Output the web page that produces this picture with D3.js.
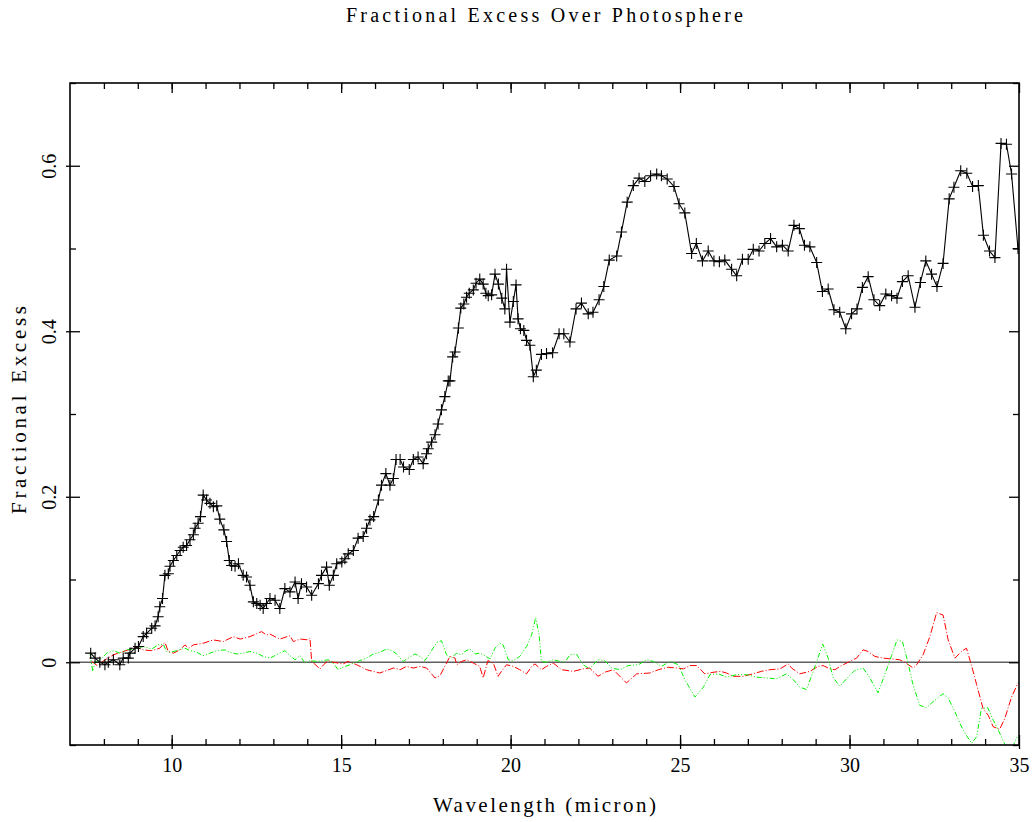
<!DOCTYPE html>
<html><head><meta charset="utf-8">
<script src="https://cdn.jsdelivr.net/npm/d3@7"></script>
<style>body{margin:0;background:#fff}svg{display:block}text{font-family:"Liberation Serif",serif;fill:#000}</style>
</head><body>
<script>
// ---- data ----
const titleText = "Fractional Excess Over Photosphere";
const xLabel = "Wavelength (micron)";
const yLabel = "Fractional Excess";
const xMajorTicks = [10, 15, 20, 25, 30, 35];
const yMajorTicks = [0, 0.2, 0.4, 0.6];
const yTickLabels = ["0", "0.2", "0.4", "0.6"];

const obsWave = [7.61,7.74,7.88,8.03,8.13,8.28,8.47,8.57,8.72,8.77,8.92,9.02,9.16,9.26,9.41,9.51,9.60,9.65,9.73,9.80,9.90,9.95,10.05,10.15,10.25,10.34,10.44,10.54,10.64,10.69,10.78,10.85,10.93,11.03,11.13,11.23,11.33,11.42,11.54,11.62,11.70,11.77,11.87,11.97,12.11,12.21,12.31,12.41,12.51,12.61,12.70,12.80,12.90,13.05,13.19,13.34,13.49,13.64,13.73,13.83,13.98,14.13,14.33,14.42,14.57,14.65,14.77,14.87,15.02,15.11,15.21,15.36,15.50,15.65,15.75,15.85,15.96,16.10,16.19,16.32,16.44,16.54,16.62,16.74,16.84,17.01,17.13,17.27,17.42,17.52,17.57,17.67,17.77,17.86,17.96,18.06,18.16,18.21,18.29,18.36,18.46,18.53,18.62,18.70,18.78,18.90,18.98,19.09,19.19,19.27,19.34,19.44,19.54,19.64,19.74,19.83,19.88,19.98,20.08,20.16,20.22,20.29,20.39,20.47,20.57,20.67,20.76,20.91,21.06,21.24,21.43,21.57,21.75,21.93,22.09,22.29,22.43,22.61,22.75,22.91,23.13,23.27,23.44,23.62,23.79,23.96,24.13,24.31,24.45,24.62,24.82,24.97,25.14,25.34,25.48,25.66,25.83,26.00,26.16,26.32,26.52,26.67,26.84,27.01,27.16,27.33,27.50,27.67,27.85,28.02,28.19,28.36,28.52,28.67,28.83,29.03,29.20,29.37,29.54,29.71,29.89,30.06,30.22,30.38,30.55,30.72,30.89,31.07,31.24,31.40,31.56,31.73,31.93,32.09,32.25,32.42,32.58,32.76,32.94,33.08,33.28,33.46,33.63,33.80,33.95,34.13,34.29,34.47,34.63,34.78,34.97];
const obsExcess = [0.011,0.005,0.000,-0.003,0.000,0.003,-0.003,0.005,0.005,0.011,0.017,0.019,0.031,0.035,0.041,0.044,0.055,0.067,0.077,0.105,0.107,0.116,0.123,0.129,0.135,0.139,0.141,0.148,0.154,0.162,0.168,0.176,0.202,0.196,0.192,0.188,0.189,0.173,0.160,0.146,0.123,0.117,0.116,0.119,0.105,0.103,0.093,0.073,0.071,0.069,0.065,0.071,0.077,0.075,0.065,0.089,0.085,0.097,0.077,0.095,0.091,0.081,0.095,0.105,0.115,0.093,0.105,0.119,0.121,0.125,0.131,0.135,0.150,0.152,0.162,0.172,0.176,0.196,0.214,0.228,0.214,0.222,0.245,0.245,0.236,0.233,0.245,0.248,0.240,0.252,0.258,0.266,0.275,0.288,0.305,0.321,0.340,0.340,0.369,0.375,0.404,0.428,0.433,0.441,0.446,0.450,0.458,0.463,0.457,0.446,0.443,0.444,0.469,0.457,0.440,0.427,0.475,0.411,0.436,0.456,0.415,0.403,0.401,0.389,0.383,0.345,0.353,0.372,0.373,0.374,0.397,0.397,0.387,0.427,0.434,0.421,0.423,0.438,0.454,0.486,0.491,0.520,0.556,0.576,0.585,0.581,0.588,0.590,0.588,0.584,0.575,0.554,0.543,0.494,0.506,0.485,0.497,0.485,0.484,0.486,0.475,0.467,0.487,0.487,0.499,0.497,0.506,0.512,0.502,0.504,0.497,0.528,0.524,0.504,0.502,0.483,0.448,0.451,0.426,0.423,0.403,0.421,0.427,0.453,0.466,0.438,0.431,0.445,0.443,0.440,0.460,0.467,0.429,0.459,0.485,0.469,0.454,0.482,0.560,0.574,0.594,0.591,0.575,0.576,0.516,0.497,0.489,0.627,0.626,0.590,0.500];

const redWave = [7.64,7.80,8.00,8.28,8.50,8.72,8.95,9.16,9.40,9.65,9.80,9.90,10.05,10.25,10.39,10.50,10.64,10.93,11.23,11.52,11.82,12.02,12.31,12.65,12.80,12.90,13.19,13.49,13.59,13.79,14.03,14.08,14.13,14.38,14.48,14.62,14.77,15.06,15.20,15.46,15.75,16.14,16.34,16.54,16.74,16.93,17.13,17.33,17.52,17.77,17.92,18.11,18.21,18.36,18.41,18.56,18.70,18.90,19.09,19.19,19.33,19.49,19.63,19.73,19.88,20.08,20.27,20.47,20.62,20.72,20.91,21.06,21.26,21.50,21.85,22.14,22.33,22.58,22.78,23.03,23.42,23.72,24.11,24.36,24.65,24.90,25.10,25.29,25.49,25.73,26.00,26.20,26.37,26.57,26.87,27.15,27.40,27.65,27.95,28.19,28.29,28.53,28.83,29.07,29.22,29.42,29.57,29.72,29.96,30.21,30.40,30.55,30.75,30.99,31.24,31.48,31.63,31.88,31.98,32.17,32.37,32.57,32.76,32.91,33.11,33.30,33.45,33.60,33.75,33.94,34.09,34.24,34.43,34.58,34.78,34.97];
const redExcess = [0.001,-0.004,0.002,0.009,0.012,0.015,0.018,0.015,0.014,0.017,0.024,0.013,0.011,0.015,0.021,0.017,0.021,0.023,0.027,0.025,0.031,0.028,0.031,0.037,0.033,0.034,0.028,0.032,0.025,0.028,0.027,0.029,0.001,-0.008,-0.003,0.002,0.000,-0.002,0.001,-0.003,-0.009,-0.013,-0.010,-0.007,-0.009,-0.005,-0.007,-0.005,-0.007,-0.019,-0.016,-0.001,0.007,0.005,-0.003,0.001,0.003,-0.001,-0.005,-0.019,0.002,-0.001,-0.017,-0.011,-0.003,-0.005,-0.009,-0.014,-0.005,-0.002,-0.009,-0.005,-0.001,-0.009,-0.011,-0.008,-0.007,-0.017,-0.012,-0.009,-0.025,-0.014,-0.013,-0.009,-0.006,-0.007,-0.008,-0.004,-0.004,-0.014,-0.012,-0.011,-0.013,-0.017,-0.017,-0.014,-0.011,-0.009,-0.008,-0.002,-0.007,-0.014,-0.011,-0.005,-0.004,-0.008,-0.009,-0.005,0.000,0.005,0.015,0.013,0.007,0.005,0.004,0.003,0.000,-0.007,-0.003,0.009,0.031,0.060,0.057,0.027,0.005,0.013,0.017,-0.004,-0.027,-0.056,-0.064,-0.078,-0.081,-0.068,-0.042,-0.025];

const greenWave = [7.59,7.67,7.74,7.90,8.08,8.28,8.47,8.67,8.92,9.16,9.41,9.60,9.75,9.85,9.95,10.15,10.39,10.54,10.74,10.93,11.13,11.33,11.57,11.72,11.91,12.11,12.31,12.51,12.70,12.90,13.19,13.34,13.49,13.64,13.79,13.93,14.08,14.28,14.47,14.62,14.77,14.91,15.06,15.26,15.55,15.75,15.95,16.14,16.34,16.49,16.64,16.83,16.98,17.18,17.33,17.47,17.62,17.82,17.96,18.11,18.26,18.40,18.55,18.65,18.80,18.95,19.09,19.24,19.39,19.54,19.68,19.78,19.93,20.08,20.27,20.47,20.62,20.74,20.84,20.91,21.06,21.26,21.45,21.60,21.75,21.94,22.14,22.33,22.58,22.78,22.98,23.23,23.47,23.77,24.01,24.21,24.45,24.70,24.95,25.14,25.44,25.69,25.88,26.13,26.37,26.67,26.96,27.26,27.55,27.85,28.14,28.34,28.53,28.73,28.93,29.21,29.37,29.51,29.71,29.96,30.15,30.40,30.60,30.84,31.04,31.24,31.40,31.56,31.71,31.86,32.07,32.27,32.51,32.76,32.91,33.11,33.35,33.60,33.75,33.89,34.08,34.24,34.39,34.58,34.78,34.97];
const greenExcess = [0.011,-0.011,0.000,0.003,0.011,0.014,0.011,0.015,0.016,0.019,0.016,0.021,0.022,0.013,0.012,0.014,0.017,0.014,0.012,0.008,0.011,0.014,0.015,0.012,0.010,0.011,0.013,0.011,0.007,0.005,0.011,0.014,0.008,0.003,0.008,-0.001,0.002,0.001,0.002,0.003,-0.001,-0.009,-0.006,-0.003,0.002,0.005,0.010,0.012,0.016,0.014,0.010,0.001,0.005,0.010,0.007,0.002,0.011,0.024,0.026,0.009,0.005,0.011,0.009,0.013,0.016,0.010,0.011,0.008,0.004,0.017,0.023,0.021,0.003,0.002,0.007,0.019,0.033,0.054,0.033,0.001,0.000,0.003,0.001,0.000,0.009,0.010,-0.003,-0.008,0.003,0.002,-0.007,-0.009,-0.004,-0.003,0.003,0.001,-0.005,0.001,-0.003,-0.021,-0.042,-0.030,-0.015,-0.014,-0.018,-0.015,-0.015,-0.018,-0.019,-0.020,-0.014,-0.021,-0.030,-0.033,-0.011,0.022,0.005,-0.018,-0.029,-0.018,-0.010,-0.007,-0.019,-0.037,-0.015,0.008,0.027,0.025,0.002,-0.025,-0.052,-0.055,-0.046,-0.038,-0.043,-0.060,-0.082,-0.098,-0.090,-0.056,-0.055,-0.070,-0.082,-0.099,-0.105,-0.088];

// ---- drawing ----
const W = 1036, H = 822;
const m = {left: 70, right: 1019, top: 83, bottom: 745};
const x = d3.scaleLinear().domain([7, 35]).range([m.left, m.right]);
const y = d3.scaleLinear().domain([-0.1, 0.7]).range([m.bottom, m.top]);

const svg = d3.select("body").append("svg").attr("width", W).attr("height", H);

svg.append("defs").append("clipPath").attr("id", "clip")
  .append("rect").attr("x", m.left).attr("y", m.top)
  .attr("width", m.right - m.left).attr("height", m.bottom - m.top);

// zero line
svg.append("line").attr("x1", x(7)).attr("x2", x(35)).attr("y1", y(0)).attr("y2", y(0))
  .attr("stroke", "#606060").attr("stroke-width", 1.7);

const line = d3.line().x(d => x(d[0])).y(d => y(d[1]));
const plot = svg.append("g").attr("clip-path", "url(#clip)");

const redPts = redWave.map((w, i) => [w, redExcess[i]]);
const greenPts = greenWave.map((w, i) => [w, greenExcess[i]]);
const obsPts = obsWave.map((w, i) => [w, obsExcess[i]]);

plot.append("path").datum(redPts).attr("d", line).attr("fill", "none")
  .attr("stroke", "#ff0000").attr("stroke-width", 1).attr("stroke-dasharray", "7,2,1,2");
plot.append("path").datum(greenPts).attr("d", line).attr("fill", "none")
  .attr("stroke", "#00f000").attr("stroke-width", 1).attr("stroke-dasharray", "5,2,1,2,1,2");
plot.append("path").datum(obsPts).attr("d", line).attr("fill", "none")
  .attr("stroke", "#000").attr("stroke-width", 1.1);
plot.selectAll("path.mk").data(obsPts).join("path").attr("class", "mk")
  .attr("transform", d => `translate(${x(d[0])},${y(d[1])})`)
  .attr("d", "M-5.5,0H5.5M0,-5.5V5.5").attr("stroke", "#000").attr("stroke-width", 1.1).attr("fill", "none");

// axes
const xMinor = d3.range(8, 35);
const yMinor = d3.range(-1, 8).map(v => v / 10).filter(v => !yMajorTicks.includes(v));
const clean = g => g.select(".domain").remove();

// bottom
svg.append("g").attr("transform", `translate(0,${m.bottom})`)
  .call(d3.axisBottom(x).tickValues(xMinor).tickSize(-6).tickFormat("")).call(clean);
const gb = svg.append("g").attr("transform", `translate(0,${m.bottom})`)
  .call(d3.axisBottom(x).tickValues(xMajorTicks).tickSize(-10).tickFormat(d3.format("d"))).call(clean);
gb.selectAll("line").attr("y1", 4);
gb.selectAll("text").attr("y", 27).attr("dy", 0).attr("font-size", 20)
  .style("font-family", '"Liberation Serif",serif');
// top
svg.append("g").attr("transform", `translate(0,${m.top})`)
  .call(d3.axisTop(x).tickValues(xMinor).tickSize(-6).tickFormat("")).call(clean);
svg.append("g").attr("transform", `translate(0,${m.top})`)
  .call(d3.axisTop(x).tickValues(xMajorTicks).tickSize(-10).tickFormat("")).call(clean);
// left
svg.append("g").attr("transform", `translate(${m.left},0)`)
  .call(d3.axisLeft(y).tickValues(yMinor).tickSize(-6).tickFormat("")).call(clean);
const gl = svg.append("g").attr("transform", `translate(${m.left},0)`)
  .call(d3.axisLeft(y).tickValues(yMajorTicks).tickSize(-10)
    .tickFormat((d, i) => yTickLabels[i])).call(clean);
gl.selectAll("line").attr("x1", -4);
gl.selectAll("text").attr("x", 0).attr("dy", "0.35em").attr("text-anchor", "middle")
  .attr("transform", "translate(-21,0) rotate(-90)").attr("font-size", 20)
  .style("font-family", '"Liberation Serif",serif');
// right
svg.append("g").attr("transform", `translate(${m.right},0)`)
  .call(d3.axisRight(y).tickValues(yMinor).tickSize(-6).tickFormat("")).call(clean);
svg.append("g").attr("transform", `translate(${m.right},0)`)
  .call(d3.axisRight(y).tickValues(yMajorTicks).tickSize(-10).tickFormat("")).call(clean);

svg.selectAll("g.tick line").attr("stroke", "#000").attr("stroke-width", 1.3);

// frame
svg.append("rect").attr("x", m.left).attr("y", m.top)
  .attr("width", m.right - m.left).attr("height", m.bottom - m.top)
  .attr("fill", "none").attr("stroke", "#000").attr("stroke-width", 1.6);

// titles
svg.append("text").attr("x", 544.5).attr("y", 22).attr("text-anchor", "middle")
  .attr("font-size", 20).attr("textLength", 397).attr("lengthAdjust", "spacing").text(titleText);
svg.append("text").attr("x", 544.5).attr("y", 812).attr("text-anchor", "middle")
  .attr("font-size", 21).attr("textLength", 223).attr("lengthAdjust", "spacing").text(xLabel);
svg.append("text").attr("transform", "translate(26,410) rotate(-90)").attr("text-anchor", "middle")
  .attr("font-size", 21).attr("textLength", 208).attr("lengthAdjust", "spacing").text(yLabel);
</script>
</body></html>
